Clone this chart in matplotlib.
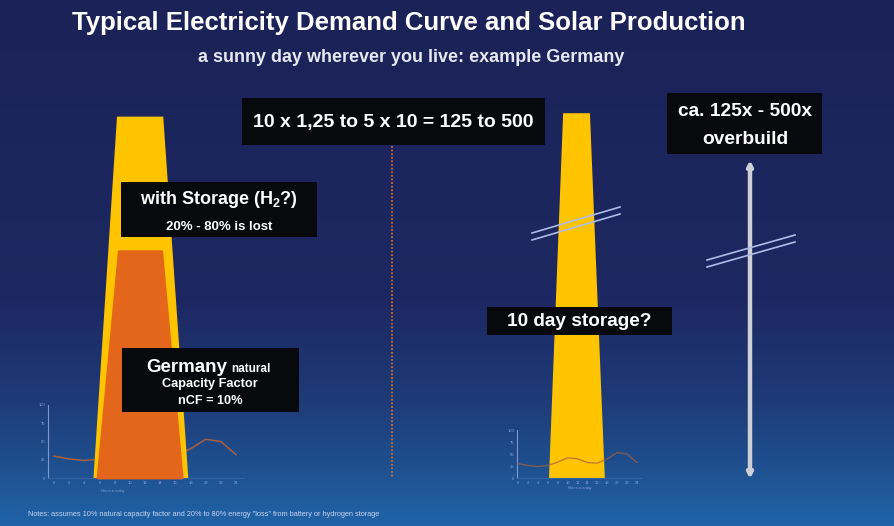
import numpy as np
import matplotlib
matplotlib.use("Agg")
import matplotlib.pyplot as plt
from matplotlib.patches import Rectangle, Polygon

plt.rcParams['font.family'] = ['Liberation Sans', 'DejaVu Sans']
plt.rcParams['mathtext.fontset'] = 'custom'
plt.rcParams['mathtext.bf'] = 'Liberation Sans:bold'
plt.rcParams['mathtext.rm'] = 'Liberation Sans:bold'
plt.rcParams['mathtext.default'] = 'bf'

W, H = 894, 526

# demand curve, % of peak, every 2 hours
hours = [0, 2, 4, 6, 8, 10, 12, 14, 16, 18, 20, 22, 24]
demand = [30, 26, 24, 26, 33, 42, 40, 32, 31, 40, 53, 50, 32]
hour_ticks = [0, 2, 4, 6, 8, 10, 12, 14, 16, 18, 20, 22, 24]
pct_ticks = [0, 25, 50, 75, 100]

# stylised solar production shapes (hours, % of demand)
solar_hours = [5.2, 8.3, 14.4, 17.7]
solar_overbuild = [0, 495, 495, 0]
usable_hours = [5.8, 8.6, 14.2, 16.9]
usable_after_loss = [0, 310, 310, 0]
storage_hours = [6.25, 9.1, 14.5, 17.5]
storage_overbuild = [0, 760, 760, 0]

YELLOW = '#ffc400'
ORANGE = '#e4661a'
CURVE = '#a8603e'
TICKC = '#8fa6d6'
BOX = '#08090d'

fig = plt.figure(figsize=(W / 100, H / 100), dpi=100)
bg = fig.add_axes([0, 0, 1, 1])
bg.set_xlim(0, W)
bg.set_ylim(H, 0)
bg.axis('off')

# background gradient
stops_y = [0, 300, 400, 470, 526]
stops_c = ['#1b2257', '#1d2862', '#1e3b78', '#1f5190', '#2064a9']
rgb = np.array([matplotlib.colors.to_rgb(c) for c in stops_c])
yy = np.arange(H)
grad = np.stack([np.interp(yy, stops_y, rgb[:, i]) for i in range(3)], axis=-1)
bg.imshow(grad[:, None, :], extent=[0, W, H, 0], aspect='auto', zorder=0)

# dotted divider
bg.plot([392, 392], [146, 478], color='#d2692a', lw=1.3, ls=(0, (1, 1)), zorder=1)


def px_axes(left, top, right, bottom):
    return fig.add_axes([left / W, 1 - bottom / H, (right - left) / W, (bottom - top) / H])


def mini_chart(a, ymax):
    a.set_facecolor('none')
    a.set_ylim(0, ymax)
    for s in ['top', 'right']:
        a.spines[s].set_visible(False)
    a.spines['left'].set_bounds(0, 100)
    a.spines['left'].set_color('#7f97cc')
    a.spines['left'].set_linewidth(0.8)
    a.spines['bottom'].set_color('#3e63a8')
    a.spines['bottom'].set_linewidth(0.6)
    a.set_yticks(pct_ticks)
    a.set_xticks(hour_ticks)
    a.tick_params(length=0, labelsize=3, colors=TICKC, pad=2)
    a.set_xlabel('Hours in a day', fontsize=2.6, color=TICKC, labelpad=1)


# left illustration
axl = px_axes(48, 113, 244, 478)
axl.set_xlim(-0.8, 25.05)
mini_chart(axl, 500)
axl.plot(hours, demand, color=CURVE, lw=1.1, zorder=1)
axl.add_patch(Polygon(list(zip(solar_hours, solar_overbuild)), closed=True,
                      facecolor=YELLOW, edgecolor='none', zorder=2, clip_on=False))
axl.add_patch(Polygon(list(zip(usable_hours, usable_after_loss)), closed=True,
                      facecolor=ORANGE, edgecolor=ORANGE, lw=2, joinstyle='round',
                      zorder=3, clip_on=False))
axl.xaxis.set_label_coords(0.33, -0.03)

# right illustration
axr = px_axes(517, 94, 642, 478)
axr.set_xlim(-0.2, 25)
mini_chart(axr, 800)
axr.add_patch(Polygon(list(zip(storage_hours, storage_overbuild)), closed=True,
                      facecolor=YELLOW, edgecolor='none', zorder=2, clip_on=False))
axr.plot(hours, demand, color=CURVE, lw=1.0, alpha=0.7, zorder=3)
axr.xaxis.set_label_coords(0.5, -0.02)

# overlay for annotations, above the illustrations
ax = fig.add_axes([0, 0, 1, 1])
ax.set_xlim(0, W)
ax.set_ylim(H, 0)
ax.axis('off')
ax.patch.set_alpha(0)

# break marks
for dy in (0, 7):
    ax.plot([532, 620], [233 + dy, 207 + dy], color='#aebde8', lw=1.2, zorder=5)
    ax.plot([707, 795], [260 + dy, 235 + dy], color='#aebde8', lw=1.2, zorder=5)

# overbuild arrow
ax.annotate('', xy=(750, 160), xytext=(750, 479),
            arrowprops=dict(arrowstyle='<|-|>', color='#cfd0d6', lw=3.2,
                            mutation_scale=7, shrinkA=0, shrinkB=0), zorder=4)


def box(x0, y0, x1, y1):
    ax.add_patch(Rectangle((x0, y0), x1 - x0, y1 - y0, facecolor=BOX,
                           edgecolor='none', zorder=6))


box(242, 98, 545, 145)
ax.text(393, 122, '10 x 1,25 to 5 x 10 = 125 to 500', color='white', fontsize=14,
        fontweight='bold', ha='center', va='center', zorder=7)

box(667, 93, 822, 154)
ax.text(745, 112, 'ca. 125x - 500x', color='white', fontsize=13.8,
        fontweight='bold', ha='center', va='center', zorder=7)
ax.text(745, 140, 'overbuild', color='white', fontsize=13.8,
        fontweight='bold', ha='center', va='center', zorder=7)

box(121, 182, 317, 237)
ax.text(219, 200, 'with Storage (H$_2$?)', color='white', fontsize=13,
        fontweight='bold', ha='center', va='center', zorder=7)
ax.text(219, 227, '20% - 80% is lost', color='white', fontsize=9.5,
        fontweight='bold', ha='center', va='center', zorder=7)

box(122, 348, 299, 412)
ax.text(227, 372, 'Germany', color='white', fontsize=13.5, fontweight='bold',
        ha='right', va='baseline', zorder=7)
ax.text(231, 372, 'natural', color='white', fontsize=8.5, fontweight='bold',
        ha='left', va='baseline', zorder=7)
ax.text(210, 384, 'Capacity Factor', color='white', fontsize=9.2, fontweight='bold',
        ha='center', va='center', zorder=7)
ax.text(210, 401, 'nCF = 10%', color='white', fontsize=9.2, fontweight='bold',
        ha='center', va='center', zorder=7)

box(487, 307, 672, 335)
ax.text(579, 322, '10 day storage?', color='white', fontsize=13.7,
        fontweight='bold', ha='center', va='center', zorder=7)

# titles
ax.text(409, 23, 'Typical Electricity Demand Curve and Solar Production', color='white',
        fontsize=18.5, fontweight='bold', ha='center', va='center', zorder=7)
ax.text(411, 57, 'a sunny day wherever you live: example Germany', color='#e6e8f2',
        fontsize=13, fontweight='bold', ha='center', va='center', zorder=7)

ax.text(28, 514, 'Notes: assumes 10% natural capacity factor and 20% to 80% energy "loss" '
        'from battery or hydrogen storage', color='#c9d3ec', fontsize=5.3,
        ha='left', va='center', zorder=7)

fig.savefig('out.png', dpi=100)
